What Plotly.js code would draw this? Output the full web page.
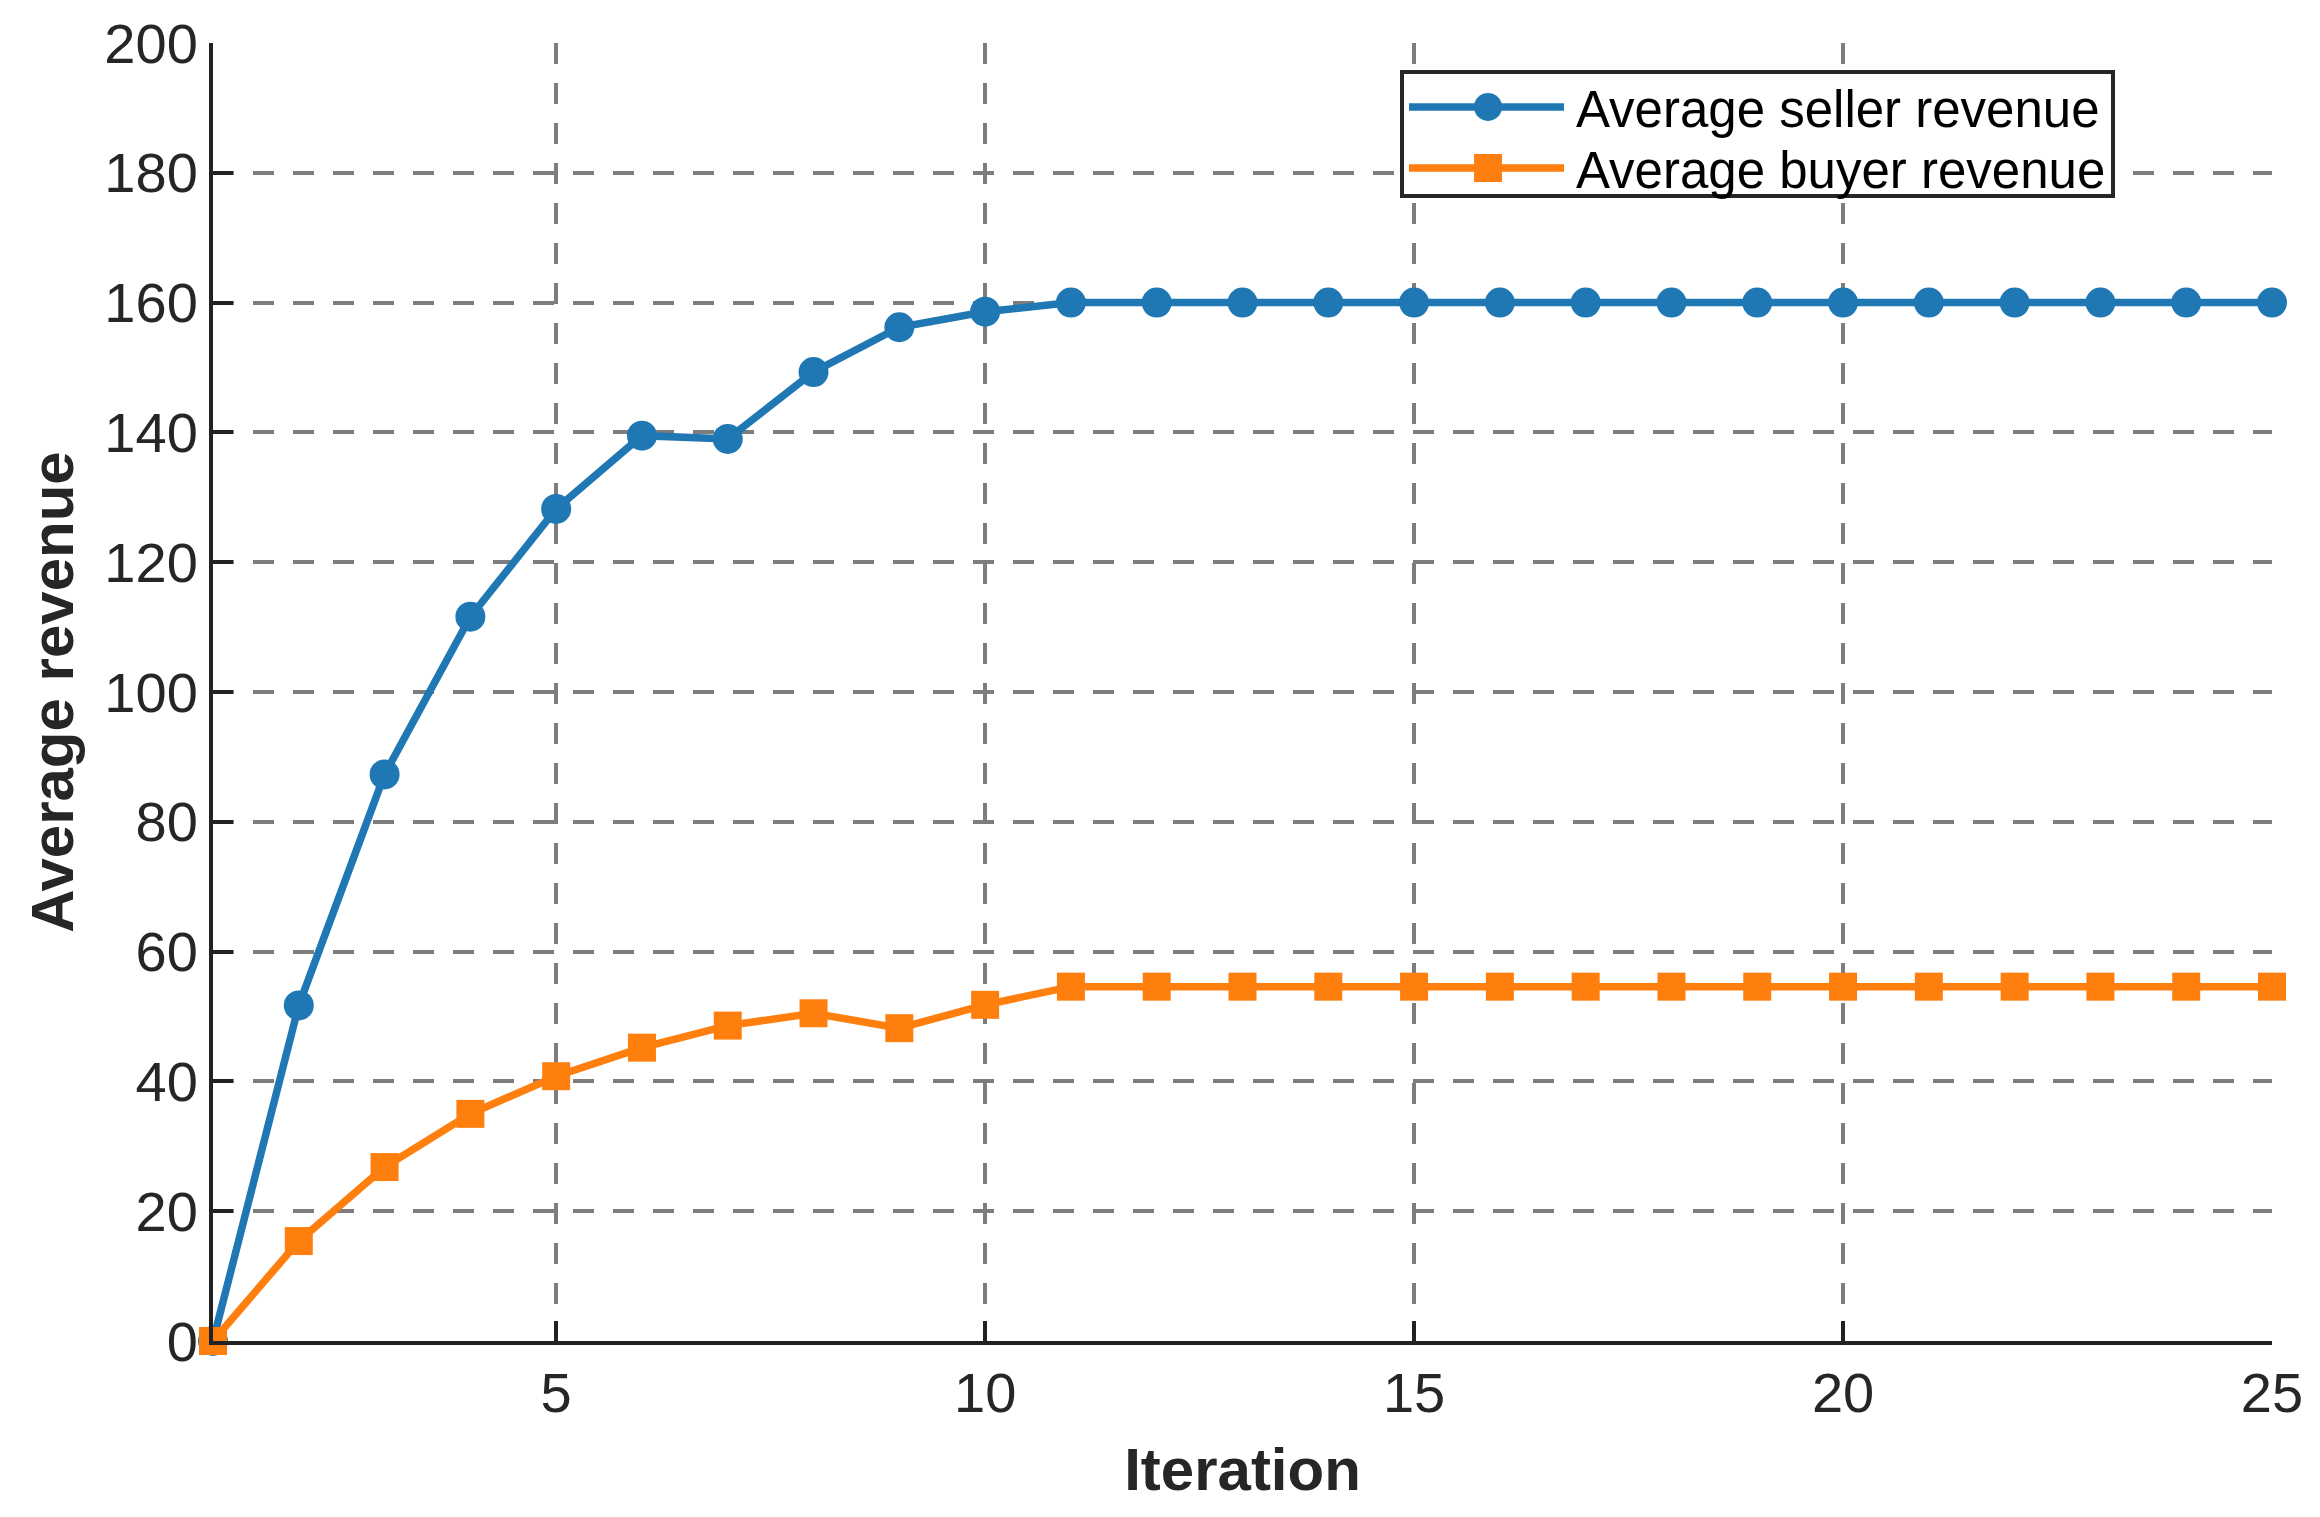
<!DOCTYPE html>
<html>
<head>
<meta charset="utf-8">
<script src="https://cdn.plot.ly/plotly-3.0.1.min.js"></script>
<style>
  html, body { margin: 0; padding: 0; background: #fff; }
  #chart { width: 2320px; height: 1517px; }
</style>
</head>
<body>
<div id="chart"></div>
<script>
// iterations 1..25
var iterations = [1, 2, 3, 4, 5, 6, 7, 8, 9, 10, 11, 12, 13, 14, 15, 16, 17, 18, 19, 20, 21, 22, 23, 24, 25];

// values
var sellerRevenue = [0, 51.7, 87.3, 111.6, 128.2, 139.5, 139.0, 149.3, 156.2, 158.6,
                     160, 160, 160, 160, 160, 160, 160, 160, 160, 160, 160, 160, 160, 160, 160];
var buyerRevenue = [0, 15.4, 26.8, 35.0, 40.8, 45.2, 48.6, 50.5, 48.2, 51.8,
                    54.6, 54.6, 54.6, 54.6, 54.6, 54.6, 54.6, 54.6, 54.6, 54.6, 54.6, 54.6, 54.6, 54.6, 54.6];

var xTicks = [5, 10, 15, 20, 25];
var yTicks = [0, 20, 40, 60, 80, 100, 120, 140, 160, 180, 200];

var BLUE = '#1f77b4';
var ORANGE = '#ff7f0e';
var TEXT = '#262626';

var traces = [
    {
        x: iterations,
        y: sellerRevenue,
        name: 'Average seller revenue',
        type: 'scatter',
        mode: 'lines+markers',
        line: { color: BLUE, width: 7.5 },
        marker: { color: BLUE, size: 30, symbol: 'circle' },
        cliponaxis: false
    },
    {
        x: iterations,
        y: buyerRevenue,
        name: 'Average buyer revenue',
        type: 'scatter',
        mode: 'lines+markers',
        line: { color: ORANGE, width: 7.5 },
        marker: { color: ORANGE, size: 28, symbol: 'square' },
        cliponaxis: false
    }
];

var gridStyle = {
    showgrid: true,
    gridcolor: '#7d7d7d',
    gridwidth: 4,
    griddash: '21px,19px'
};

var layout = {
    width: 2320,
    height: 1517,
    margin: { l: 213, r: 48, t: 43, b: 176 },
    paper_bgcolor: '#fff',
    plot_bgcolor: '#fff',
    font: { family: 'Liberation Sans, Arial, sans-serif', color: TEXT, size: 56 },
    xaxis: Object.assign({
        range: [1, 25],
        tickvals: xTicks,
        ticks: 'inside',
        ticklen: 20,
        tickwidth: 4,
        tickcolor: '#222',
        showline: true,
        linecolor: '#222',
        linewidth: 4,
        zeroline: false,
        tickfont: { size: 56, color: TEXT },
        title: { text: 'Iteration', font: { size: 60, color: TEXT, weight: 'bold' }, standoff: 26 }
    }, gridStyle),
    yaxis: Object.assign({
        range: [0, 200],
        tickvals: yTicks,
        ticks: 'inside',
        ticklen: 20,
        tickwidth: 4,
        tickcolor: '#222',
        showline: true,
        linecolor: '#222',
        linewidth: 4,
        zeroline: false,
        tickfont: { size: 56, color: TEXT },
        title: { text: 'Average revenue', font: { size: 60, color: TEXT, weight: 'bold' }, standoff: 12 }
    }, gridStyle),
    legend: {
        x: 0.5765,
        y: 0.979,
        xanchor: 'left',
        yanchor: 'top',
        bgcolor: '#fff',
        bordercolor: '#262626',
        borderwidth: 4,
        itemwidth: 162,
        font: { size: 51, color: '#000' },
        tracegroupgap: 0
    },
    showlegend: true
};

function readTranslate(el) {
    var m = /translate\(\s*([-\d.e]+)[ ,]+([-\d.e]+)/.exec(el.getAttribute('transform') || '');
    return m ? [parseFloat(m[1]), parseFloat(m[2])] : [0, 0];
}

Plotly.newPlot('chart', traces, layout, { staticPlot: true }).then(function(gd) {
    // longer sample lines and bigger markers in the legend, like the original
    gd.querySelectorAll('.legend .legendlines path').forEach(function(p) {
        p.setAttribute('d', 'M5,0h155');
        p.style.strokeWidth = '7.5px';
    });
    gd.querySelectorAll('.legend .legendpoints path.scatterpts').forEach(function(p) {
        p.setAttribute('transform', 'translate(84,0) scale(1.75)');
    });
    // tighter rows, as in the original box
    var rows = gd.querySelectorAll('.legend .traces');
    if (rows.length === 2) {
        var first = readTranslate(rows[0]);
        var second = readTranslate(rows[1]);
        var y0 = first[1] - 7;
        rows[0].setAttribute('transform', 'translate(' + first[0] + ',' + y0 + ')');
        rows[1].setAttribute('transform', 'translate(' + second[0] + ',' + (y0 + 61) + ')');
        var bg = gd.querySelector('.legend rect.bg');
        if (bg) bg.setAttribute('height', 124);
    }
});
</script>
</body>
</html>
